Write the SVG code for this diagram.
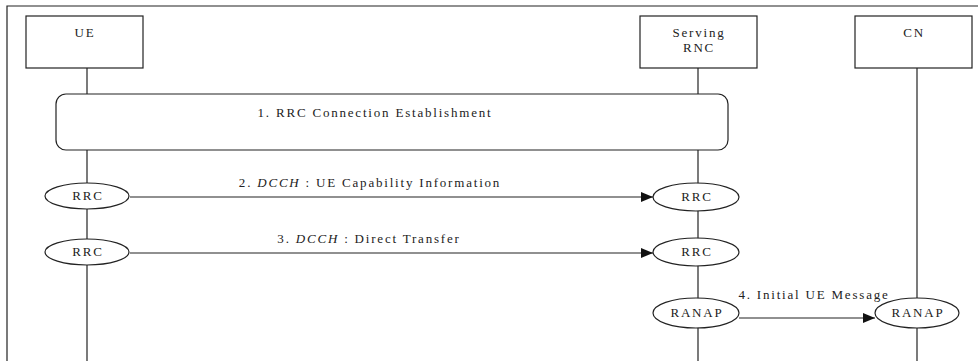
<svg xmlns="http://www.w3.org/2000/svg" width="978" height="361" viewBox="0 0 978 361">
<style>
.ln{stroke:#222;stroke-width:1.2;fill:none}
.box{stroke:#222;stroke-width:1.2;fill:#fff}
.t{font-family:"Liberation Serif","Times New Roman",serif;font-size:13px;letter-spacing:1.8px;fill:#222;text-anchor:middle}
.i{font-style:italic}
</style>
<defs>
<marker id="ah" viewBox="0 0 12 10" refX="12" refY="5" markerWidth="12" markerHeight="10" markerUnits="userSpaceOnUse" orient="auto">
<path d="M0,0 L12,5 L0,10 z" fill="#111"/>
</marker>
</defs>
<rect width="978" height="361" fill="#fff"/>
<path class="ln" d="M7,361 V6 H978" stroke="#333"/>
<g id="lifelines" class="ln">
<line x1="87" y1="68" x2="87" y2="361"/>
<line x1="698" y1="68" x2="698" y2="361"/>
<line x1="917" y1="68" x2="917" y2="361"/>
</g>
<g id="ue"><rect class="box" x="26" y="16" width="117" height="52"/><text class="t" x="85" y="37">UE</text></g>
<g id="srnc"><rect class="box" x="640" y="16" width="117" height="52"/><text class="t" x="699" y="37">Serving</text><text class="t" x="699" y="52">RNC</text></g>
<g id="cn"><rect class="box" x="855" y="16" width="117" height="52"/><text class="t" x="914" y="37">CN</text></g>
<g id="step1"><rect class="box" x="56" y="94" width="672" height="56" rx="10"/><text class="t" x="375" y="117">1. RRC Connection Establishment</text></g>
<g id="rrc_ue_1"><ellipse class="box" cx="87" cy="196" rx="42" ry="13"/><text class="t" x="88" y="200">RRC</text></g>
<g id="rrc_ue_2"><ellipse class="box" cx="87" cy="252" rx="42" ry="13"/><text class="t" x="88" y="256">RRC</text></g>
<g id="rrc_srnc_1"><ellipse class="box" cx="696" cy="197" rx="43" ry="14"/><text class="t" x="697" y="201">RRC</text></g>
<g id="rrc_srnc_2"><ellipse class="box" cx="696" cy="252" rx="43" ry="14"/><text class="t" x="697" y="256">RRC</text></g>
<g id="ranap_srnc"><ellipse class="box" cx="696" cy="313" rx="43" ry="15"/><text class="t" x="697" y="317">RANAP</text></g>
<g id="ranap_cn"><ellipse class="box" cx="917" cy="313" rx="42" ry="15"/><text class="t" x="918" y="317">RANAP</text></g>
<g id="connectors" class="ln">
<line x1="130" y1="197" x2="653" y2="197" marker-end="url(#ah)"/>
<line x1="130" y1="253" x2="653" y2="253" marker-end="url(#ah)"/>
<line x1="739" y1="318" x2="875" y2="318" marker-end="url(#ah)"/>
</g>
<g id="labels">
<text class="t" x="370" y="187">2. <tspan class="i">DCCH</tspan> : UE Capability Information</text>
<text class="t" x="369" y="243">3. <tspan class="i">DCCH</tspan> : Direct Transfer</text>
<text class="t" x="814" y="299">4. Initial UE Message</text>
</g>
</svg>
